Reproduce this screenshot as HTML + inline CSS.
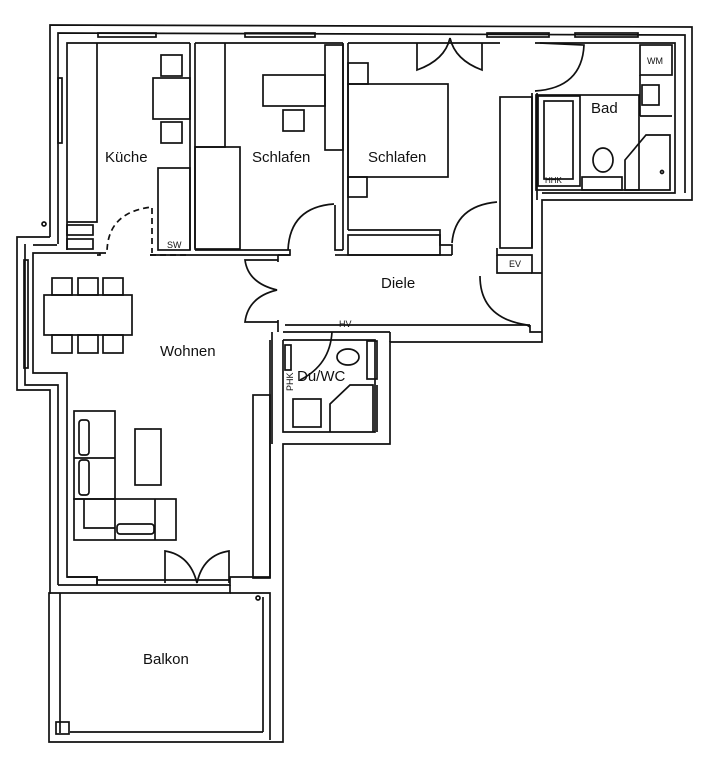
<!DOCTYPE html>
<html><head><meta charset="utf-8"><style>
html,body{margin:0;padding:0;background:#fff;width:720px;height:760px;overflow:hidden}
svg{display:block}
text{font-family:"Liberation Sans","DejaVu Sans",sans-serif;fill:#111}
</style></head><body>
<svg width="720" height="760" viewBox="0 0 720 760" xmlns="http://www.w3.org/2000/svg">
<g fill="none" stroke="#111" stroke-width="1.7">
<polyline points="50,237 50,25 692,27 692,200 542,200 542,342 390,342 390,444 283,444 283,742 49,742 49,593 50,593 50,390 17,390 17,237 50,237"/>
<polyline points="58,244 58,33 685,35 685,193"/>
<polyline points="25,244 25,385 58,385 58,585"/>
<polyline points="67,250 67,43 190,43"/>
<line x1="195" y1="43" x2="343" y2="43"/>
<line x1="348" y1="43" x2="500" y2="43"/>
<polyline points="535,43 675,43 675,193 542,193"/>
<polyline points="100,253 33,253 33,373 67,373 67,577 97,577 97,585"/>
<polyline points="57,245 33,245"/>
<rect x="98" y="33" width="58" height="4"/><rect x="245" y="33" width="70" height="4"/>
<rect x="487" y="33" width="62" height="4"/><rect x="575" y="33" width="63" height="4"/>
<rect x="58" y="78" width="4" height="65"/><rect x="24" y="260" width="4" height="108"/>
<line x1="190" y1="43" x2="190" y2="250"/><line x1="195" y1="43" x2="195" y2="248"/>
<line x1="343" y1="43" x2="343" y2="250"/><line x1="348" y1="43" x2="348" y2="230"/>
<polyline points="97,255 100,255 100,253"/>
<polyline points="150,255 190,255"/>
<polyline points="190,255 290,255 290,250 195,250"/>
<polyline points="335,205 335,250 343,250"/>
<polyline points="278,255 290,255"/>
<line x1="335" y1="255" x2="348" y2="255"/>
<polyline points="97,43 97,222 67,222"/>
<rect x="67" y="225" width="26" height="10"/><rect x="67" y="239" width="26" height="10"/>
<rect x="161" y="55" width="21" height="21"/><rect x="153" y="78" width="37" height="41"/>
<rect x="161" y="122" width="21" height="21"/><rect x="158" y="168" width="32" height="82"/>
<path d="M100,253 L107,253 Q107,212 152,207 L152,253" stroke-dasharray="6,4"/>
<line x1="150" y1="255" x2="187" y2="255" stroke-dasharray="6,4"/>
<polyline points="195,147 225,147 225,43"/>
<rect x="195" y="147" width="45" height="102"/>
<rect x="263" y="75" width="62" height="31"/><rect x="283" y="110" width="21" height="21"/>
<rect x="325" y="45" width="18" height="105"/>
<path d="M288,250 Q290,207 334,204"/>
<rect x="348" y="84" width="100" height="93"/>
<rect x="348" y="63" width="20" height="21"/><rect x="348" y="177" width="19" height="20"/>
<polyline points="348,230 440,230 440,245 452,245 452,255"/>
<rect x="348" y="235" width="92" height="20"/>
<line x1="348" y1="255" x2="452" y2="255"/>
<path d="M452,243 Q455,206 497,202"/>
<path d="M417,43 L417,70 Q445,60 450,38 M482,43 L482,70 Q455,60 450,38"/>
<rect x="500" y="97" width="32" height="151"/>
<polyline points="497,248 497,255 532,255 532,273 542,273"/>
<line x1="537" y1="93" x2="537" y2="200"/><line x1="532" y1="93" x2="532" y2="248"/>
<path d="M535,91 Q582,88 584,45 L540,43"/>
<rect x="536" y="95" width="103" height="95"/>
<rect x="538" y="96" width="42" height="90"/><rect x="544" y="101" width="29" height="78"/>
<rect x="582" y="177" width="40" height="13"/>
<ellipse cx="603" cy="160" rx="10" ry="12"/>
<path d="M625,190 L625,160 L646,135 L670,135 L670,190 Z"/>
<circle cx="662" cy="172" r="1.5"/>
<rect x="640" y="45" width="32" height="30"/><rect x="642" y="85" width="17" height="20"/>
<line x1="640" y1="75" x2="640" y2="116"/><line x1="640" y1="116" x2="672" y2="116"/>
<polyline points="497,255 497,273 532,273"/>
<path d="M480,276 Q480,318 527,325 L530,327"/>
<polyline points="530,325 530,332 542,332"/>
<polyline points="285,325 530,325"/>
<polyline points="390,332 390,342"/>
<polyline points="283,332 390,332"/>
<path d="M278,260 L245,260 Q248,283 277,290 Q248,297 245,322 L278,322"/>
<line x1="278" y1="255" x2="278" y2="262"/><line x1="278" y1="320" x2="278" y2="332"/>
<polyline points="272,332 272,444"/>
<polyline points="283,340 375,340 375,432 283,432 283,340"/>
<path d="M332,332 Q330,365 300,380"/>
<rect x="285" y="345" width="6" height="25"/>
<ellipse cx="348" cy="357" rx="11" ry="8"/>
<rect x="367" y="341" width="10" height="38"/>
<rect x="293" y="399" width="28" height="28"/>
<path d="M330,432 L330,404 L350,385 L373,385 L373,432"/>
<line x1="377" y1="385" x2="377" y2="432"/>
<line x1="270" y1="340" x2="270" y2="578"/>
<rect x="253" y="395" width="17" height="183"/>
<rect x="44" y="295" width="88" height="40"/>
<rect x="52" y="278" width="20" height="17"/><rect x="78" y="278" width="20" height="17"/><rect x="103" y="278" width="20" height="17"/>
<rect x="52" y="335" width="20" height="18"/><rect x="78" y="335" width="20" height="18"/><rect x="103" y="335" width="20" height="18"/>
<rect x="74" y="411" width="41" height="88"/>
<line x1="74" y1="458" x2="115" y2="458"/>
<rect x="74" y="499" width="102" height="41"/>
<line x1="115" y1="499" x2="115" y2="540"/><line x1="155" y1="499" x2="155" y2="540"/>
<rect x="79" y="420" width="10" height="35" rx="3"/><rect x="79" y="460" width="10" height="35" rx="3"/>
<rect x="117" y="524" width="37" height="10" rx="3"/>
<polyline points="84,499 84,528 115,528"/>
<rect x="135" y="429" width="26" height="56"/>
<path d="M165,583 L165,551 Q190,555 197,583 Q203,555 229,551 L229,583"/>
<polyline points="67,577 97,577 97,585"/>
<polyline points="97,585 230,585 230,577 270,577"/>
<line x1="97" y1="580" x2="230" y2="580"/>
<line x1="58" y1="585" x2="97" y2="585"/>
<polyline points="49,593 230,593 230,585"/>
<polyline points="230,593 270,593 270,740"/>
<line x1="60" y1="593" x2="60" y2="733"/>
<line x1="263" y1="597" x2="263" y2="732"/>
<line x1="70" y1="732" x2="263" y2="732"/>
<rect x="56" y="722" width="13" height="12"/>
<circle cx="258" cy="598" r="2"/>
<circle cx="44" cy="224" r="2"/>
</g>
<g font-size="15">
<text x="105" y="162">Küche</text>
<text x="252" y="162">Schlafen</text>
<text x="368" y="162">Schlafen</text>
<text x="591" y="113">Bad</text>
<text x="381" y="288">Diele</text>
<text x="160" y="356">Wohnen</text>
<text x="297" y="381">Du/WC</text>
<text x="143" y="664">Balkon</text>
</g>
<g font-size="9">
<text x="167" y="248">SW</text>
<text x="509" y="267">EV</text>
<text x="339" y="327">HV</text>
<text x="647" y="64">WM</text>
<text x="545" y="183" font-size="8">HHK</text>
<text x="293" y="391" font-size="9" transform="rotate(-90 293 391)">PHK</text>
</g>
</svg>
</body></html>
